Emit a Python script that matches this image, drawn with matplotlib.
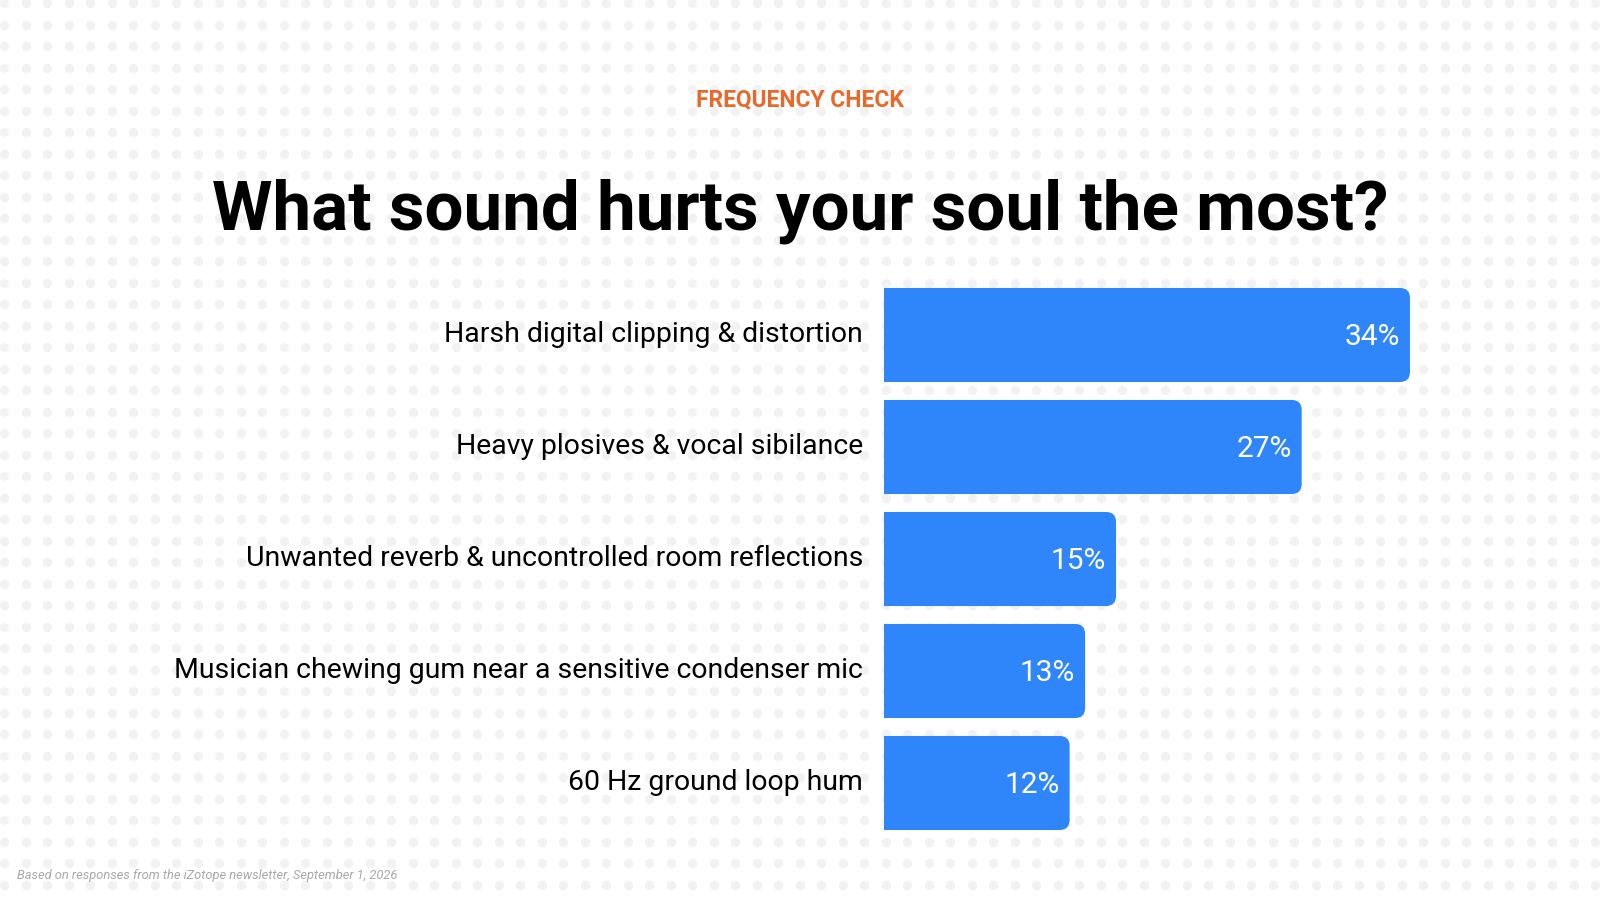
import matplotlib
matplotlib.use("Agg")
import matplotlib.pyplot as plt
import numpy as np
from matplotlib.patches import FancyBboxPatch, Rectangle
from matplotlib.transforms import offset_copy

# survey answers, top to bottom
categories = [
    "Harsh digital clipping & distortion",
    "Heavy plosives & vocal sibilance",
    "Unwanted reverb & uncontrolled room reflections",
    "Musician chewing gum near a sensitive condenser mic",
    "60 Hz ground loop hum",
]
values = [34, 27, 15, 13, 12]
value_labels = ["34%", "27%", "15%", "13%", "12%"]

title = "What sound hurts your soul the most?"
kicker = "FREQUENCY CHECK"
footnote = "Based on responses from the iZotope newsletter, September 1, 2026"

BLUE = "#2f86fb"
ORANGE = "#e8692a"

W, H = 1600, 900
fig = plt.figure(figsize=(16, 9), dpi=100)
fig.patch.set_facecolor("white")

# dotted background
bg = fig.add_axes([0, 0, 1, 1])
bg.set_xlim(0, W)
bg.set_ylim(H, 0)
bg.axis("off")
gx, gy = np.meshgrid(np.arange(4, W + 10, 21.5), np.arange(3, H + 10, 21.5))
bg.scatter(gx.ravel(), gy.ravel(), s=45, color="#f2f2f2", lw=0, zorder=0)

# kicker, title, footnote
fig.text(0.5, 1 - 100 / H, kicker, ha="center", va="center", color=ORANGE,
         fontsize=16.4, fontweight="bold", family="Roboto")
fig.text(0.5, 1 - 211 / H, title, ha="center", va="center", color="black",
         fontsize=49.8, fontweight="bold", family="Roboto")
fig.text(17 / W, 1 - 876 / H, footnote, ha="left", va="center", color="#a8a8a8",
         fontsize=9.3, style="italic", family="Roboto")

# bar axes: 0% sits at x=884 px, 15.47 px per percent
x0 = 884
px_per_pct = 15.47
top, bottom = 279, 839
ax = fig.add_axes([x0 / W, 1 - bottom / H, (W - x0) / W, (bottom - top) / H])
ax.set_xlim(0, (W - x0) / px_per_pct)
ax.set_ylim(len(values) - 0.5, -0.5)
ax.axis("off")

bar_h = 0.84
r = 10 / px_per_pct                 # corner radius in % units
aspect = px_per_pct / ((bottom - top) / len(values))
ypos = np.arange(len(values))
for y, v in zip(ypos, values):
    ax.add_patch(Rectangle((0, y - bar_h / 2), v / 2, bar_h, color=BLUE, lw=0))
    ax.add_patch(FancyBboxPatch((0, y - bar_h / 2), v, bar_h,
                                boxstyle=f"round,pad=0,rounding_size={r}",
                                mutation_aspect=aspect, color=BLUE, lw=0))

val_tr = offset_copy(ax.transData, fig=fig, x=-10, y=-2, units="dots")
for y, v, lab in zip(ypos, values, value_labels):
    ax.text(v, y, lab, transform=val_tr, ha="right", va="center",
            color="white", fontsize=21.5, family="Roboto")

lab_tr = offset_copy(ax.transData, fig=fig, x=-21, y=1, units="dots")
for y, lab in zip(ypos, categories):
    ax.text(0, y, lab, transform=lab_tr, ha="right", va="center",
            color="black", fontsize=20.4, family="Roboto")

fig.savefig("out.png", dpi=100, facecolor="white")
